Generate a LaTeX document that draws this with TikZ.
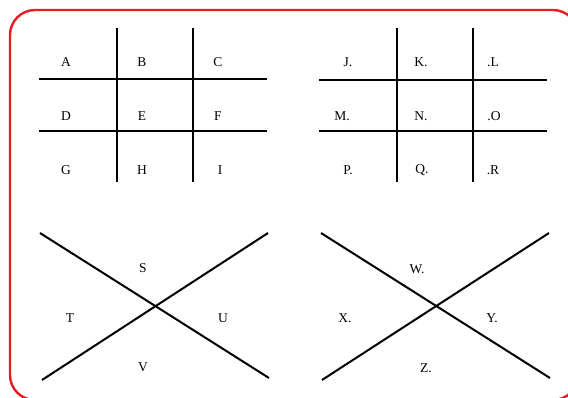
\documentclass[tikz,border=0pt]{standalone}
\usepackage{fontspec}
\setmainfont{Liberation Serif}
\definecolor{framered}{RGB}{232,28,36}
\begin{document}
\begin{tikzpicture}[x=1pt,y=-1pt,
  gridline/.style={line width=2pt,black},
  frameline/.style={line width=2.4pt,framered,rounded corners=25pt},
  letter/.style={inner sep=0pt,font=\fontsize{13.5}{16}\selectfont}]
\clip (0,0) rectangle (568,397);
\useasboundingbox (0,0) rectangle (568,397);
\draw[frameline] (10,10) rectangle (578,400);
% grid 1
\draw[gridline] (117,28) -- (117,182);
\draw[gridline] (193,28) -- (193,182);
\draw[gridline] (39,79) -- (267,79);
\draw[gridline] (39,131) -- (267,131);
\node[letter] (A) at (66,62) {A};
\node[letter] (B) at (142,62) {B};
\node[letter] (C) at (218,62) {C};
\node[letter] (D) at (66,116) {D};
\node[letter] (E) at (142,116) {E};
\node[letter] (F) at (218,116) {F};
\node[letter] (G) at (66,170) {G};
\node[letter] (H) at (142,170) {H};
\node[letter] (I) at (220,170) {I};
% grid 2
\draw[gridline] (397,28) -- (397,182);
\draw[gridline] (473,28) -- (473,182);
\draw[gridline] (319,80) -- (547,80);
\draw[gridline] (319,131) -- (547,131);
\node[letter] (J) at (348,62) {J.};
\node[letter] (K) at (421,62) {K.};
\node[letter] (L) at (493,62) {.L};
\node[letter] (M) at (342,116) {M.};
\node[letter] (N) at (421,116) {N.};
\node[letter] (O) at (494,116) {.O};
\node[letter] (P) at (348,170) {P.};
\node[letter] (Q) at (422,170) {Q.};
\node[letter] (R) at (493,170) {.R};
% X 1
\draw[gridline] (40,233) -- (269,378);
\draw[gridline] (42,380) -- (268,233);
\node[letter] (S) at (143,268) {S};
\node[letter] (T) at (70,318) {T};
\node[letter] (U) at (223,318) {U};
\node[letter] (V) at (143,367) {V};
% X 2
\draw[gridline] (321,233) -- (550,378);
\draw[gridline] (322,380) -- (549,233);
\node[letter] (W) at (417,269) {W.};
\node[letter] (X) at (345,318) {X.};
\node[letter] (Y) at (492,318) {Y.};
\node[letter] (Z) at (426,368) {Z.};
\end{tikzpicture}
\end{document}
